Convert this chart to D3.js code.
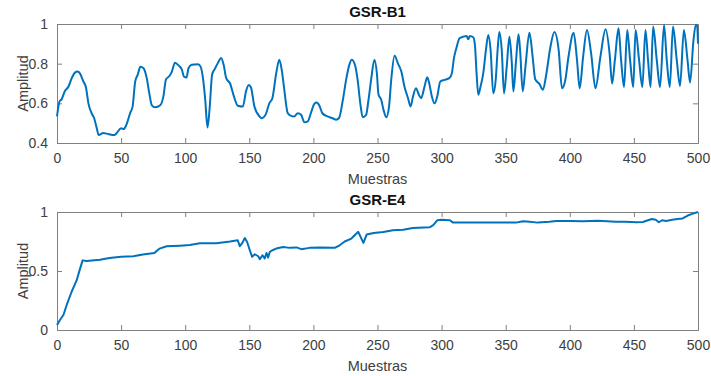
<!DOCTYPE html>
<html><head><meta charset="utf-8">
<script src="https://cdn.jsdelivr.net/npm/d3@7"></script>
<style>
body{margin:0;background:#fff;}
svg{display:block;font-family:"Liberation Sans",Arial,Helvetica,sans-serif;}
</style></head>
<body><svg id="c" width="711" height="376"></svg>
<script>
// Top panel: GSR-B1 (sample index, amplitude)
const b1X = [0,2,3.6,6,9,11.5,14,16,18,20.6,22.6,24.5,27,29,31,32.5,36,40,44.5,46.6,50,52,54,57,59,61,63,65,67.5,70,72,74,76.5,80.5,83,85,88,89.6,92,95,97.4,99,101,102.6,105,110,112,114,115.6,117.4,119,121,123.4,126,128,130,132,135,138,141,145,147.4,149.5,151.3,154,158,159.6,163,165.6,168,171,173.4,175.5,177.3,180,182.6,185,187.8,190.4,193,195.6,198,200.8,202.6,204.7,207,211,215,217.7,220,223,225.5,228,230,232.8,234.5,236.7,238.5,241,243,245,247.6,249.5,250.8,252.9,254.7,256.8,259,260.7,263.3,266,268.6,271,273.8,275.8,277.7,280,282.3,284,286.7,288.8,290.6,292.4,294.5,296.6,299,302.3,306,308,309.6,311.5,314,316.8,319.5,320.8,322,324.7,326,327.3,328.6,330.4,332.5,334.6,336.4,338.2,340.3,342.2,343.7,345,346.9,348.7,350.8,352.9,354.7,356,358,360,361.2,363.3,365.4,368.5,371,373,376.4,379,381.6,384.7,388,391.3,393.9,396.5,399,403,405.6,407.7,410.4,413.4,416.6,420,423.9,427.9,431,433,435.2,438,440,442.3,444.8,447,449.5,451.3,454,456.6,459,461,463,465,467.8,470.4,473.5,475.6,478,480.5,483.4,486,489,491.8,493.8,496.5,498.3,499.3,500];
const b1Y = [0.534,0.61,0.62,0.66,0.685,0.727,0.755,0.76,0.75,0.71,0.68,0.6,0.55,0.525,0.475,0.44,0.45,0.445,0.44,0.45,0.475,0.47,0.49,0.55,0.585,0.71,0.745,0.785,0.777,0.727,0.65,0.59,0.58,0.59,0.635,0.72,0.74,0.76,0.805,0.79,0.77,0.735,0.73,0.777,0.794,0.797,0.785,0.72,0.62,0.478,0.57,0.745,0.777,0.81,0.828,0.794,0.727,0.7,0.635,0.588,0.584,0.66,0.693,0.68,0.584,0.534,0.525,0.547,0.6,0.626,0.752,0.82,0.76,0.668,0.55,0.537,0.534,0.55,0.542,0.504,0.509,0.55,0.598,0.604,0.588,0.55,0.534,0.525,0.517,0.526,0.618,0.718,0.794,0.82,0.785,0.718,0.593,0.53,0.54,0.618,0.718,0.82,0.752,0.643,0.618,0.567,0.53,0.584,0.718,0.84,0.8,0.76,0.685,0.626,0.584,0.635,0.676,0.643,0.626,0.685,0.732,0.693,0.635,0.6,0.635,0.71,0.718,0.727,0.752,0.827,0.878,0.928,0.936,0.94,0.923,0.94,0.933,0.894,0.75,0.643,0.685,0.752,0.87,0.945,0.87,0.65,0.718,0.87,0.96,0.87,0.65,0.785,0.936,0.81,0.66,0.81,0.948,0.87,0.66,0.785,0.956,0.836,0.722,0.697,0.668,0.744,0.878,0.96,0.87,0.676,0.718,0.836,0.956,0.82,0.676,0.836,0.97,0.853,0.676,0.836,0.973,0.853,0.7,0.82,0.978,0.82,0.682,0.97,0.82,0.682,0.97,0.82,0.682,0.97,0.82,0.682,0.987,0.82,0.682,0.995,0.82,0.682,0.987,0.82,0.688,0.97,0.82,0.705,0.92,0.995,0.99,0.9];

// Bottom panel: GSR-E4
const e4X = [0,2.3,5,7.5,11.4,15.3,18,20,23,33.5,41,50,59.5,67,76,77.7,80,85.5,96,103.6,111.4,124.4,135,141,142.6,144.7,146.5,148.3,150.4,152.2,154.3,157,158.2,160.3,162,163.4,164.7,166,168,171,176.4,181.6,186.8,190.6,197,205,216.6,220.5,224.4,229.6,235,239,241.6,247,254.5,262,270,277.6,290.6,293.5,296.6,300,306.5,309,319.4,332.5,358,363.5,368.7,375,384,389.5,400,410,422,436,443,452,457,461,464,467,469.5,472,475,480,484,488,492,496,500];
const e4Y = [0.042,0.085,0.127,0.21,0.324,0.42,0.52,0.59,0.585,0.596,0.61,0.62,0.625,0.64,0.653,0.67,0.69,0.71,0.715,0.72,0.735,0.735,0.75,0.76,0.71,0.74,0.78,0.746,0.676,0.62,0.642,0.625,0.6,0.634,0.606,0.653,0.614,0.662,0.676,0.69,0.704,0.696,0.7,0.685,0.696,0.7,0.696,0.718,0.75,0.775,0.832,0.738,0.81,0.822,0.83,0.845,0.85,0.865,0.87,0.888,0.93,0.935,0.93,0.91,0.91,0.91,0.91,0.921,0.917,0.91,0.917,0.924,0.924,0.921,0.925,0.918,0.918,0.913,0.915,0.93,0.94,0.935,0.913,0.93,0.924,0.935,0.94,0.945,0.97,0.986,1.0];

const xTicks = [0,50,100,150,200,250,300,350,400,450,500];
const b1YTicks = [0.4,0.6,0.8,1];
const e4YTicks = [0,0.5,1];
const titles = ["GSR-B1","GSR-E4"];
const xLabel = "Muestras";
const yLabel = "Amplitud";

const svg = d3.select("#c");
const lineColor = "#0072BD";
const axisColor = "#808080";
const textColor = "#404040";

function panel(top, bottom, xs, ys, yDomain, yTicks, yFmt, title, curve){
  const left = 57, right = 698;
  const x = d3.scaleLinear().domain([0,500]).range([left,right]);
  const y = d3.scaleLinear().domain(yDomain).range([bottom,top]);
  const g = svg.append("g");
  const tl = 5;
  const ax = [
    {a:d3.axisBottom(x).tickValues(xTicks).tickSize(-tl).tickPadding(10).tickFormat(d3.format("d")), t:`translate(0,${bottom})`},
    {a:d3.axisTop(x).tickValues(xTicks).tickSize(-tl).tickFormat(""), t:`translate(0,${top})`},
    {a:d3.axisLeft(y).tickValues(yTicks).tickSize(-tl).tickPadding(9).tickFormat(yFmt), t:`translate(${left},0)`},
    {a:d3.axisRight(y).tickValues(yTicks).tickSize(-tl).tickFormat(""), t:`translate(${right},0)`}
  ];
  ax.forEach(o=>{
    const s = g.append("g").attr("transform",o.t).call(o.a);
    s.select(".domain").attr("stroke",axisColor).attr("stroke-width",1);
    s.selectAll(".tick line").attr("stroke",axisColor);
    s.selectAll(".tick text").attr("fill",textColor).style("font-size","14px")
      .style("font-family",'"Liberation Sans",Arial,sans-serif');
  });
  const line = d3.line().curve(curve).x((d,i)=>x(xs[i])).y((d,i)=>y(ys[i]));
  g.append("path").datum(xs).attr("d",line).attr("fill","none")
    .attr("stroke",lineColor).attr("stroke-width",2).attr("stroke-linejoin","round");
  g.append("text").attr("x",(left+right)/2).attr("y",top-7).attr("text-anchor","middle")
    .attr("font-weight","bold").attr("font-size","15px").attr("fill","#111").text(title);
  g.append("text").attr("x",(left+right)/2).attr("y",bottom+41).attr("text-anchor","middle")
    .attr("font-size","14.5px").attr("fill",textColor).text(xLabel);
  g.append("text").attr("transform",`translate(28,${(top+bottom)/2}) rotate(-90)`)
    .attr("text-anchor","middle").attr("font-size","14.5px").attr("fill",textColor).text(yLabel);
}

panel(24,143,b1X,b1Y,[0.4,1],b1YTicks,d3.format(""),titles[0],d3.curveMonotoneX);
panel(212,330,e4X,e4Y,[0,1],e4YTicks,d3.format(""),titles[1],d3.curveLinear);
</script>
</body></html>
